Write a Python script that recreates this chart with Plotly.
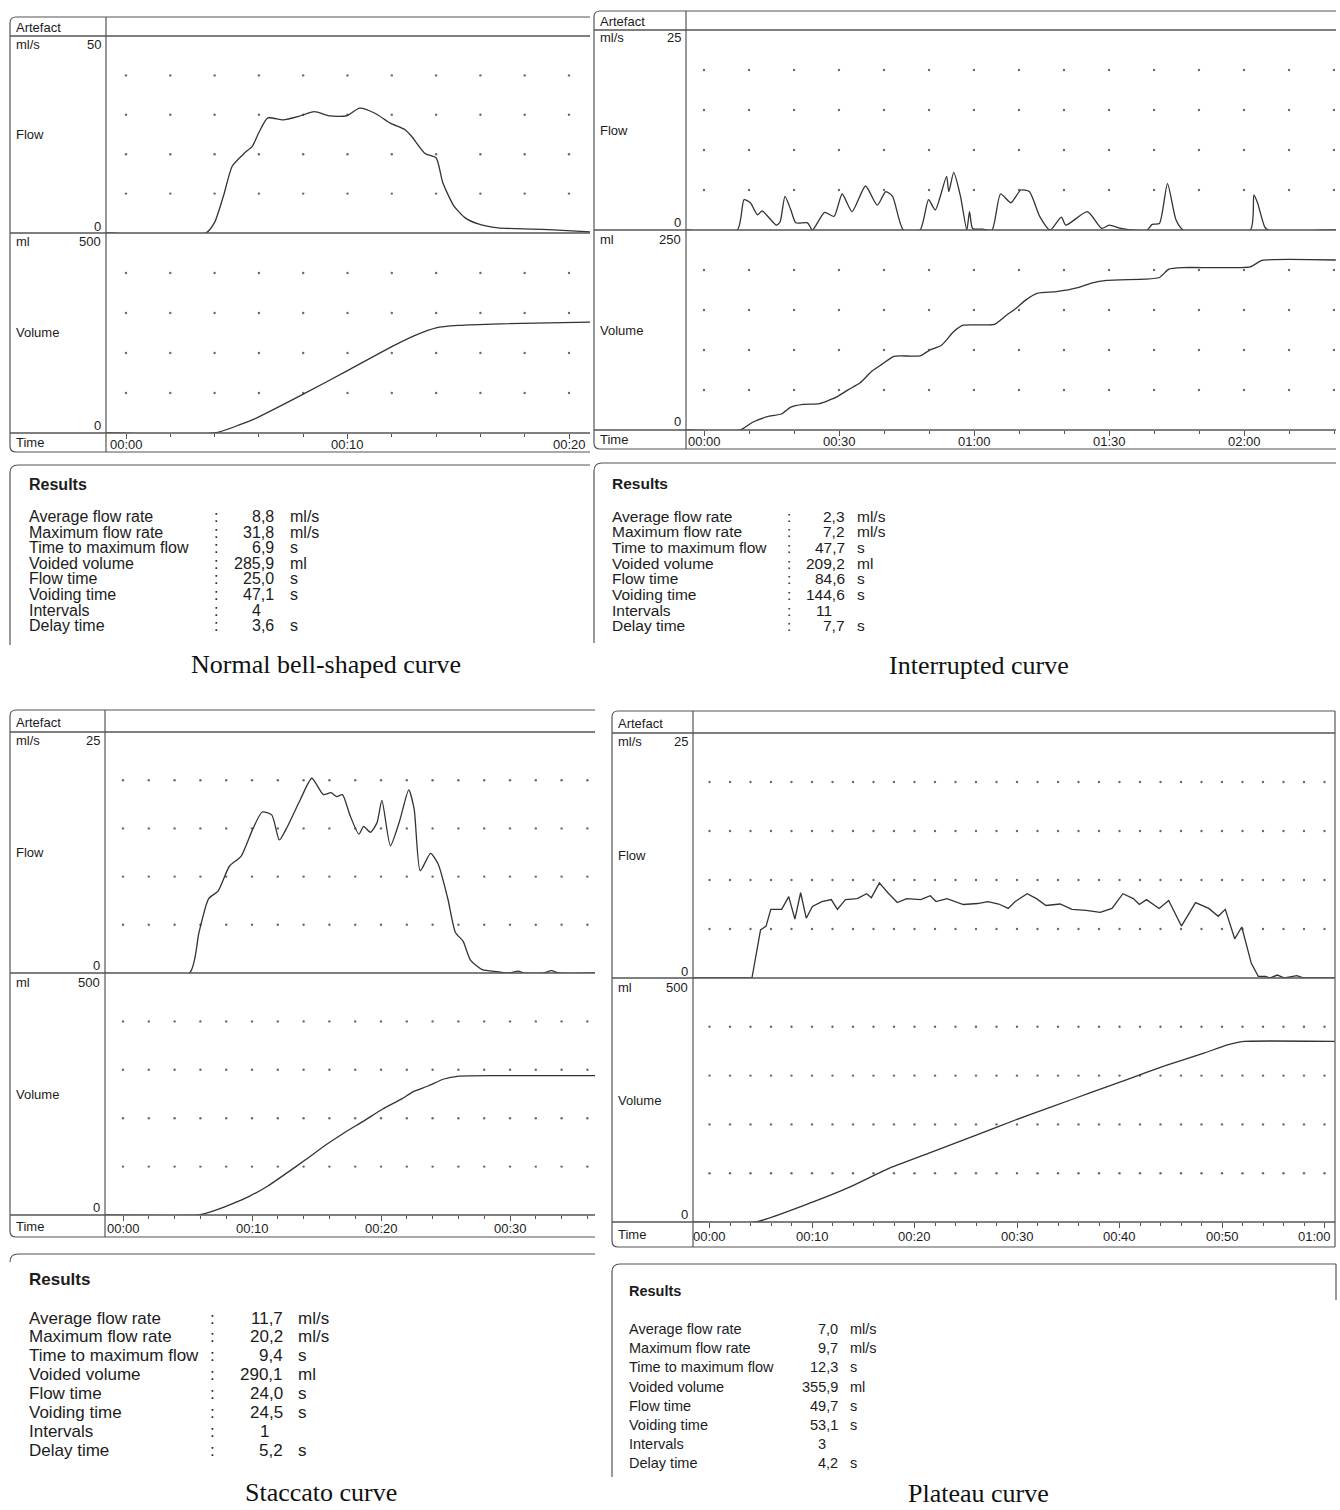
import numpy as np
import plotly.graph_objects as go

W, H = 1340, 1510

# ---------------- data ----------------
# Normal bell-shaped curve
normal_flow_t = [-0.9, 3.6, 4.0, 4.4, 4.8, 5.35, 5.7, 6.0, 6.4, 7.1, 7.8, 8.5, 9.2, 9.95, 10.55, 11.24,
                 11.93, 12.6, 12.9, 13.5, 14.0, 14.3, 14.8, 15.3, 15.9, 16.8, 18.3, 19.3, 20.95]
normal_flow_q = [0, 0, 2.7, 9.4, 17, 20.3, 22, 25.5, 29.2, 28.7, 29.6, 30.8, 29.7, 29.7, 31.7, 30.4,
                 27.9, 26.2, 24.5, 20.2, 19.1, 12.8, 6.9, 3.9, 2.3, 1.3, 1.0, 0.8, 0.3]
normal_vol_t = [-0.9, 4.0, 5.75, 8.0, 10.0, 12.0, 13.0, 14.0, 15.0, 16.9, 20.95]
normal_vol_v = [0, 0, 34, 97, 156, 216, 243, 263, 269, 273, 277]

# Interrupted curve
int_flow_t = [-4, 7.4, 8.9, 10.3, 11.9, 12.9, 14.5, 16.1, 16.9, 18.0, 19.3, 20.4, 23.0, 24.1, 26.8, 28.9,
              30.7, 32.9, 35.9, 38.5, 40.4, 41.9, 44.3, 48.0, 49.9, 51.4, 53.9, 54.4, 55.5, 57.0, 58.4,
              59.0, 59.7, 61.9, 64.0, 65.9, 68.2, 70.4, 72.3, 74.6, 76.9, 79.4, 80.4, 85.2, 88.4, 90.0,
              92.7, 94.8, 98.5, 99.6, 101.2, 103.0, 104.9, 106.5, 121.4, 122.2, 123.0, 124.6, 125.4, 140.4]
int_flow_q = [0, 0, 3.8, 3.4, 1.9, 2.4, 1.5, 0.6, 1.0, 4.2, 2.5, 0.9, 0.9, 0, 2.2, 1.7,
              4.5, 2.3, 5.5, 3.1, 4.8, 4.2, 0, 0, 3.8, 2.5, 6.7, 4.8, 7.2, 4.2, 0,
              2.3, 0.2, 0.1, 0, 4.5, 3.4, 5.0, 4.8, 1.7, 0, 1.6, 0.6, 2.3, 0.2, 0.6,
              0.2, 0, 0, 0.7, 0.8, 5.8, 1.25, 0, 0, 4.4, 3.4, 0.4, 0, 0]
int_vol_t = [-4, 8.1, 10.8, 14.5, 17.2, 19.3, 22.0, 25.7, 29.4, 32.1, 34.7, 37.4, 39.5, 42.2, 43.8, 48.0,
             50.2, 52.8, 55.5, 57.6, 64.5, 67.2, 69.3, 71.4, 74.1, 78.3, 83.1, 86.3, 89.5, 98.0, 101.2,
             103.3, 106.5, 121.4, 124.0, 140.4]
int_vol_v = [0, 0, 9.7, 17.3, 20, 28.6, 32, 33, 41, 50.5, 59, 74, 82, 92, 92.6, 92.6,
             100, 106, 123, 131, 132, 143.5, 152, 162, 171, 173, 178, 184, 187, 188.5, 190.6,
             201, 203, 204, 212, 212.5]

# Staccato curve
stac_flow_t = [-1.5, 5.15, 5.89, 6.63, 7.37, 8.26, 9.15, 10.05, 10.79, 11.53, 12.12, 12.71, 13.75, 14.64,
               15.53, 16.12, 16.57, 17.01, 17.61, 18.29, 18.65, 19.18, 19.69, 20.07, 20.73, 21.47, 22.15,
               22.57, 23.04, 23.84, 24.43, 25.18, 25.77, 26.36, 26.95, 27.85, 29.03, 29.9, 30.65, 31.1,
               32.6, 33.2, 33.8, 36.6]
stac_flow_q = [0, 0, 4.2, 7.7, 8.5, 11.1, 12.1, 14.9, 16.7, 16.4, 13.8, 15.1, 18.0, 20.2,
               18.5, 18.7, 18.3, 18.5, 16.3, 14.4, 15.2, 14.6, 15.6, 17.9, 13.2, 15.9, 19.0,
               17.0, 10.6, 12.4, 11.3, 7.7, 4.2, 3.3, 1.3, 0.34, 0.14, 0, 0.2, 0,
               0, 0.24, 0, 0]
stac_vol_t = [-1.5, 5.89, 7.08, 8.26, 9.75, 11.23, 12.71, 14.2, 15.68, 17.16, 18.65, 20.13, 21.61, 22.5,
              23.69, 24.87, 26.06, 29.03, 36.6]
stac_vol_v = [0, 0, 9, 21, 38, 60, 87, 115, 144, 170, 194, 219, 240, 255, 267, 281, 287, 288, 288]

# Plateau curve
plat_flow_t = [-1.6, 4.14, 4.98, 5.52, 5.98, 7.04, 7.73, 8.33, 8.89, 9.44, 10.04, 10.96, 11.88, 12.48,
               13.26, 14.41, 15.33, 15.79, 16.58, 17.4, 18.32, 19.24, 20.6, 21.54, 22.1, 23.16, 24.77,
               26.15, 27.16, 28.22, 29.14, 29.83, 30.99, 31.9, 32.83, 34.2, 35.36, 36.74, 38.12, 39.27,
               40.33, 41.35, 41.94, 42.63, 43.87, 44.8, 46.04, 47.42, 48.71, 49.63, 50.32, 51.24, 51.93,
               52.86, 53.54, 54.24, 54.7, 55.4, 56.1, 57.3, 58.0, 58.6, 61.0]
plat_flow_q = [0, 0, 4.9, 5.3, 7.0, 7.0, 8.3, 6.0, 8.7, 6.1, 7.3, 7.8, 8.0, 7.0,
               8.0, 8.1, 8.6, 8.2, 9.7, 8.7, 7.7, 8.1, 8.0, 8.4, 7.8, 8.1, 7.5,
               7.6, 7.8, 7.55, 7.1, 7.8, 8.6, 8.1, 7.4, 7.55, 7.0, 6.9, 6.7, 7.1,
               8.6, 8.1, 7.5, 8.0, 7.1, 7.9, 5.3, 7.7, 7.1, 6.3, 7.0, 4.0, 5.2,
               1.5, 0.17, 0.17, 0, 0.3, 0, 0.25, 0, 0, 0]
plat_vol_t = [-1.6, 4.5, 10.04, 13.72, 17.4, 21.54, 26.15, 29.83, 33.5, 37.18, 40.86, 44.54, 48.23,
              50.54, 52.15, 61.0]
plat_vol_v = [0, 0, 40.7, 72, 109, 142, 179, 209, 237, 265, 293, 321, 346, 363, 370, 370]

# Axis scales and ticks
flow_max = [50, 25, 25, 25]
vol_max = [500, 250, 500, 500]
flow_grid = [[10, 20, 30, 40], [5, 10, 15, 20], [5, 10, 15, 20], [5, 10, 15, 20]]
vol_grid = [[100, 200, 300, 400], [50, 100, 150, 200], [100, 200, 300, 400], [100, 200, 300, 400]]
time_grid_step = [2, 10, 2, 2]
time_grid_end = [20, 140, 36, 60]
time_ticks = [[0, 10, 20], [0, 30, 60, 90, 120], [0, 10, 20, 30], [0, 10, 20, 30, 40, 50, 60]]
time_tick_text = [["00:00", "00:10", "00:20"],
                  ["00:00", "00:30", "01:00", "01:30", "02:00"],
                  ["00:00", "00:10", "00:20", "00:30"],
                  ["00:00", "00:10", "00:20", "00:30", "00:40", "00:50", "01:00"]]

# Results tables
result_labels = ["Average flow rate", "Maximum flow rate", "Time to maximum flow", "Voided volume",
                 "Flow time", "Voiding time", "Intervals", "Delay time"]
result_units = ["ml/s", "ml/s", "s", "ml", "s", "s", "", "s"]
normal_results = ["8,8", "31,8", "6,9", "285,9", "25,0", "47,1", "4", "3,6"]
interrupted_results = ["2,3", "7,2", "47,7", "209,2", "84,6", "144,6", "11", "7,7"]
staccato_results = ["11,7", "20,2", "9,4", "290,1", "24,0", "24,5", "1", "5,2"]
plateau_results = ["7,0", "9,7", "12,3", "355,9", "49,7", "53,1", "3", "4,2"]

captions = ["Normal bell-shaped curve", "Interrupted curve", "Staccato curve", "Plateau curve"]

# ---------------- layout geometry (pixels) ----------------
geom = [
    dict(L=10, D=106, R=590, T=17, A=36, M=233, B=433, TB=452, x0=126, pps=22.15, right_border=False,
         res=dict(top=465, bottom=645, left=10, right=590, rline=0,
                  hdr=(27, 485), row0=516.5, dy=15.6, xl=27, xc=216, xv=276, xu=288, fs=16),
         cap=(326, 665), flow_shape="spline"),
    dict(L=594, D=686, R=1336, T=11, A=30, M=230, B=430, TB=449, x0=704, pps=4.5, right_border=False,
         res=dict(top=463, bottom=643, left=594, right=1336, rline=0,
                  hdr=(610, 484), row0=516, dy=15.7, xl=610, xc=789, xv=847, xu=855, fs=15.5),
         cap=(979, 666), flow_shape="spline"),
    dict(L=10, D=105, R=595, T=710, A=732, M=973, B=1215, TB=1237, x0=123, pps=12.9, right_border=False,
         res=dict(top=1254, bottom=1262, left=10, right=595, rline=0,
                  hdr=(27, 1279), row0=1318, dy=18.9, xl=27, xc=212, xv=285, xu=296, fs=17),
         cap=(321, 1492), flow_shape="spline"),
    dict(L=612, D=693, R=1335, T=711, A=733, M=978, B=1222, TB=1247, x0=709.5, pps=10.25, right_border=True,
         res=dict(top=1264, bottom=1477, left=612, right=1336, rline=36,
                  hdr=(627, 1291), row0=1329, dy=19.2, xl=627, xc=None, xv=840, xu=848, fs=14.5),
         cap=(978, 1493), flow_shape="linear"),
]

flows = [(normal_flow_t, normal_flow_q), (int_flow_t, int_flow_q),
         (stac_flow_t, stac_flow_q), (plat_flow_t, plat_flow_q)]
vols = [(normal_vol_t, normal_vol_v), (int_vol_t, int_vol_v),
        (stac_vol_t, stac_vol_v), (plat_vol_t, plat_vol_v)]
results = [normal_results, interrupted_results, staccato_results, plateau_results]


def fx(x):
    return x / W


def fy(y):
    return 1 - y / H


LINE = "#333333"
FRAME = "#555555"
TXT = "#1c1c1c"
SANS = "Liberation Sans, Arial, sans-serif"
SERIF = "Liberation Serif, Times New Roman, serif"

fig = go.Figure()
shapes = []
annotations = []
layout_axes = {}


def ann(text, x, y, xanchor="left", size=13, family=SANS, color=TXT, xref="paper"):
    annotations.append(dict(text=text, x=x if xref != "paper" else fx(x), y=fy(y),
                            xref=xref, yref="paper",
                            xanchor=xanchor, yanchor="middle", showarrow=False,
                            font=dict(size=size, family=family, color=color)))


def hline(x0, x1, y, w=1.2, color=FRAME):
    shapes.append(dict(type="line", xref="paper", yref="paper", x0=fx(x0), x1=fx(x1),
                       y0=fy(y), y1=fy(y), line=dict(color=color, width=w)))


def vline(x, y0, y1, w=1.2, color=FRAME):
    shapes.append(dict(type="line", xref="paper", yref="paper", x0=fx(x), x1=fx(x),
                       y0=fy(y0), y1=fy(y1), line=dict(color=color, width=w)))


for i, g in enumerate(geom):
    fa, va = 2 * i + 1, 2 * i + 2
    fxn = "x" if fa == 1 else f"x{fa}"
    fyn = "y" if fa == 1 else f"y{fa}"
    vxn, vyn = f"x{va}", f"y{va}"
    xr = [(g["D"] - g["x0"]) / g["pps"], (g["R"] - g["x0"]) / g["pps"]]

    # axes
    hid = dict(showgrid=False, zeroline=False, showline=False, showticklabels=False, ticks="")
    layout_axes["xaxis" if fa == 1 else f"xaxis{fa}"] = dict(
        domain=[fx(g["D"]), fx(g["R"])], range=xr, anchor=fyn, **hid)
    layout_axes["yaxis" if fa == 1 else f"yaxis{fa}"] = dict(
        domain=[fy(g["M"]), fy(g["A"])], range=[0, flow_max[i]], anchor=fxn, **hid)
    layout_axes[f"xaxis{va}"] = dict(
        domain=[fx(g["D"]), fx(g["R"])], range=xr, anchor=vyn,
        showgrid=False, zeroline=False, showline=False, showticklabels=False,
        tickmode="array", tickvals=time_ticks[i],
        ticks="outside", ticklen=5, tickwidth=1, tickcolor=FRAME,
        minor=dict(ticks="outside", ticklen=3, tickwidth=1, tickcolor=FRAME,
                   tick0=0, dtick=time_grid_step[i], showgrid=False))
    layout_axes[f"yaxis{va}"] = dict(
        domain=[fy(g["B"]), fy(g["M"])], range=[0, vol_max[i]], anchor=vxn, **hid)

    # time tick labels placed on the time axis (kept inside the frame at the right edge)
    ty = (g["B"] + g["TB"]) / 2 + 2
    for tv, tt in zip(time_ticks[i], time_tick_text[i]):
        tick_px = g["x0"] + tv * g["pps"]
        if tick_px + 17 > g["R"]:
            ann(tt, g["R"] - 2, ty, xanchor="right", size=13)
        else:
            ann(tt, tv, ty, xanchor="center", size=13, xref=vxn)

    # dotted grid at intersections
    gx = np.arange(0, time_grid_end[i] + 0.001, time_grid_step[i])
    for (xn, yn, gy) in [(fxn, fyn, flow_grid[i]), (vxn, vyn, vol_grid[i])]:
        mx, my = np.meshgrid(gx, gy)
        fig.add_trace(go.Scatter(x=mx.ravel(), y=my.ravel(), mode="markers", xaxis=xn, yaxis=yn,
                                 marker=dict(size=2.4, color="#6a6a6a"), hoverinfo="skip",
                                 showlegend=False))

    # curves
    ft, fq = flows[i]
    vt, vv = vols[i]
    fig.add_trace(go.Scatter(x=ft, y=fq, mode="lines", xaxis=fxn, yaxis=fyn, showlegend=False,
                             line=dict(color=LINE, width=1.3, shape=g["flow_shape"], smoothing=0.6)))
    fig.add_trace(go.Scatter(x=vt, y=vv, mode="lines", xaxis=vxn, yaxis=vyn, showlegend=False,
                             line=dict(color=LINE, width=1.3, shape="spline", smoothing=0.5)))

    # frame
    L, D, R, T, A, M, B, TB = (g[k] for k in ["L", "D", "R", "T", "A", "M", "B", "TB"])
    r = 6
    path = (f"M {fx(R)},{fy(T)} L {fx(L + r)},{fy(T)} Q {fx(L)},{fy(T)} {fx(L)},{fy(T + r)} "
            f"L {fx(L)},{fy(TB - r)} Q {fx(L)},{fy(TB)} {fx(L + r)},{fy(TB)} L {fx(R)},{fy(TB)}")
    shapes.append(dict(type="path", xref="paper", yref="paper", path=path,
                       line=dict(color=FRAME, width=1.2)))
    for yy in (A, M, B):
        hline(L, R, yy, w=1.6 if yy != B else 1.3)
    vline(D, T, TB)
    if g["right_border"]:
        vline(R, T, TB)

    # left column labels
    ann("Artefact", L + 4, (T + A) / 2 + 1)
    ann("ml/s", L + 4, A + 8)
    ann(str(flow_max[i]), D - 3, A + 8, xanchor="right")
    ann("Flow", L + 4, (A + M) / 2)
    ann("0", D - 3, M - 7, xanchor="right")
    ann("ml", L + 4, M + 9)
    ann(str(vol_max[i]), D - 3, M + 9, xanchor="right")
    ann("Volume", L + 4, (M + B) / 2)
    ann("0", D - 3, B - 8, xanchor="right")
    ann("Time", L + 4, (B + TB) / 2)

    # results box
    rs = g["res"]
    rr = 8
    rpath = (f"M {fx(rs['right'])},{fy(rs['top'])} L {fx(rs['left'] + rr)},{fy(rs['top'])} "
             f"Q {fx(rs['left'])},{fy(rs['top'])} {fx(rs['left'])},{fy(rs['top'] + rr)} "
             f"L {fx(rs['left'])},{fy(rs['bottom'])}")
    shapes.append(dict(type="path", xref="paper", yref="paper", path=rpath,
                       line=dict(color=FRAME, width=1.2)))
    if rs["rline"]:
        vline(rs["right"], rs["top"], rs["top"] + rs["rline"])

    fs = rs["fs"]
    ann("<b>Results</b>", rs["hdr"][0], rs["hdr"][1], size=fs)
    for k, lab in enumerate(result_labels):
        yy = rs["row0"] + k * rs["dy"]
        ann(lab, rs["xl"], yy, size=fs)
        if rs["xc"] is not None:
            ann(":", rs["xc"], yy, xanchor="center", size=fs)
        val = results[i][k]
        xv = rs["xv"] if "," in val else rs["xv"] - 0.834 * fs
        ann(val, xv, yy, xanchor="right", size=fs)
        if result_units[k]:
            ann(result_units[k], rs["xu"], yy, size=fs)

    # caption
    ann(captions[i], g["cap"][0], g["cap"][1], xanchor="center", size=26, family=SERIF, color="#111")

fig.update_layout(
    width=W, height=H, autosize=False,
    margin=dict(l=0, r=0, t=0, b=0, pad=0),
    paper_bgcolor="white", plot_bgcolor="rgba(0,0,0,0)",
    showlegend=False, shapes=shapes, annotations=annotations,
    **layout_axes,
)

fig.write_html("out.html", config={"displayModeBar": False},
               post_script="document.body.style.margin='0';document.body.style.padding='0';")
